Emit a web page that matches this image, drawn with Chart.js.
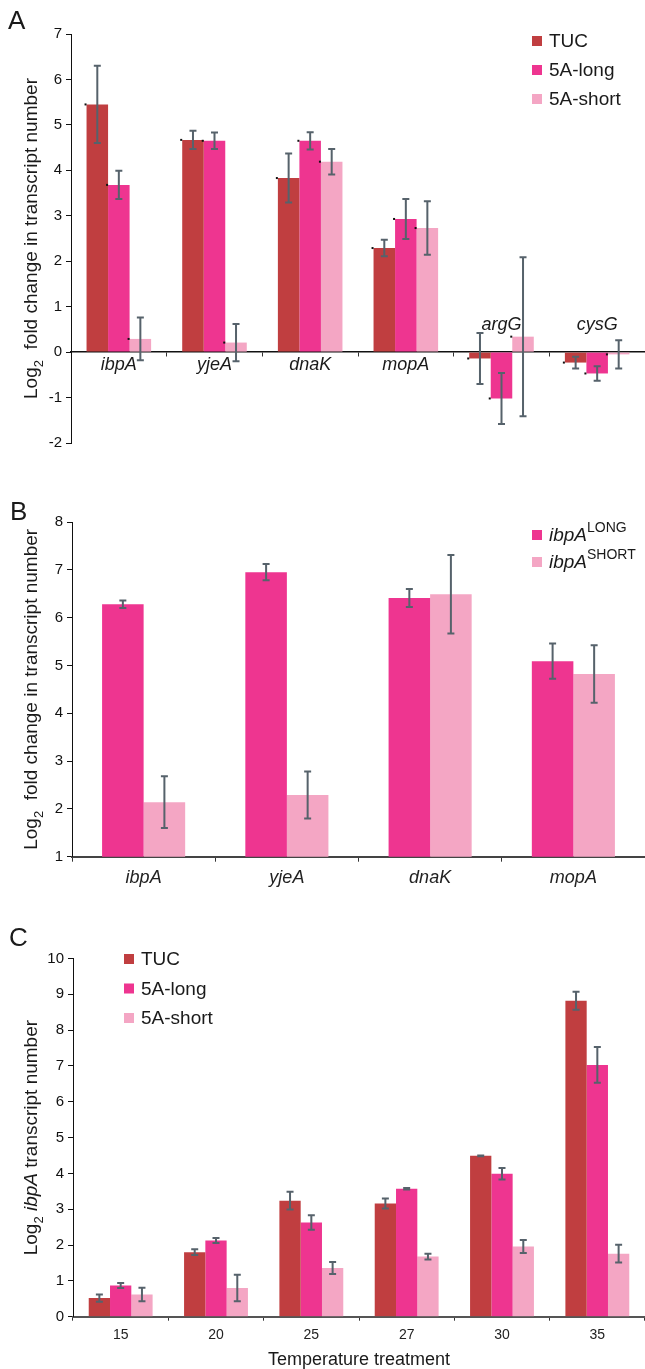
<!DOCTYPE html>
<html>
<head>
<meta charset="utf-8">
<script src="https://cdn.jsdelivr.net/npm/chart.js@4.4.1/dist/chart.umd.min.js"></script>
<style>
  body { margin: 0; background: #fff; }
  .panel { position: absolute; left: 0; }
  canvas { display: block; }
</style>
</head>
<body>
<div class="panel" style="top:0"><canvas id="chartA" width="645" height="470"></canvas></div>
<div class="panel" style="top:470px"><canvas id="chartB" width="645" height="420"></canvas></div>
<div class="panel" style="top:890px"><canvas id="chartC" width="645" height="479"></canvas></div>
<script>
// Panel A: fold change per gene
const genesA = ['ibpA', 'yjeA', 'dnaK', 'mopA', 'argG', 'cysG'];
const tucA = [5.45, 4.67, 3.83, 2.29, -0.14, -0.23];
const tucErrA = [0.85, 0.20, 0.54, 0.18, 0.56, 0.13];
const longA = [3.68, 4.65, 4.65, 2.93, -1.02, -0.47];
const longErrA = [0.31, 0.18, 0.19, 0.44, 0.56, 0.16];
const shortA = [0.29, 0.21, 4.19, 2.73, 0.34, -0.05];
const shortErrA = [0.47, 0.41, 0.28, 0.59, 1.75, 0.31];
const ticksA = [-2, -1, 0, 1, 2, 3, 4, 5, 6, 7];

// Panel B: ibpA long / short constructs
const genesB = ['ibpA', 'yjeA', 'dnaK', 'mopA'];
const longB = [6.28, 6.95, 6.41, 5.09];
const longErrB = [0.08, 0.17, 0.19, 0.37];
const shortB = [2.14, 2.29, 6.49, 4.82];
const shortErrB = [0.54, 0.49, 0.82, 0.60];
const ticksB = [1, 2, 3, 4, 5, 6, 7, 8];

// Panel C: ibpA transcripts by temperature
const temps = ['15', '20', '25', '27', '30', '35'];
const tucC = [0.52, 1.80, 3.24, 3.16, 4.49, 8.82];
const tucErrC = [0.10, 0.08, 0.25, 0.14, 0.01, 0.25];
const longC = [0.87, 2.13, 2.63, 3.57, 3.99, 7.03];
const longErrC = [0.07, 0.07, 0.20, 0.02, 0.16, 0.50];
const shortC = [0.62, 0.80, 1.36, 1.68, 1.96, 1.76];
const shortErrC = [0.19, 0.37, 0.17, 0.08, 0.18, 0.25];
const ticksC = [0, 1, 2, 3, 4, 5, 6, 7, 8, 9, 10];

const seriesNames = ['TUC', '5A-long', '5A-short'];
const seriesB = [['ibpA', 'LONG'], ['ibpA', 'SHORT']];

const FONT = '"Liberation Sans", Arial, Helvetica, sans-serif';
const RED = '#c03e40';
const PINK = '#ee3590';
const LIGHT = '#f4a6c4';
const ERR = '#56626b';
const INK = '#1a1a1a';

Chart.defaults.font.family = FONT;

function richWidth(ctx, parts) {
  let w = 0;
  parts.forEach(p => { ctx.font = p.font; w += ctx.measureText(p.text).width; });
  return w;
}

function drawRich(ctx, parts, x, y) {
  parts.forEach(p => {
    ctx.font = p.font;
    ctx.fillText(p.text, x, y + (p.dy || 0));
    x += ctx.measureText(p.text).width;
  });
}

// error bars (and the little excel marker dots on panel A)
function makeErrorBars(dots) {
  return {
    id: 'errorBars',
    afterDatasetsDraw(chart) {
      const ctx = chart.ctx, ys = chart.scales.y;
      ctx.save();
      chart.data.datasets.forEach((ds, di) => {
        chart.getDatasetMeta(di).data.forEach((bar, i) => {
          const v = ds.data[i], e = ds.errors[i];
          if (dots) {
            ctx.fillStyle = '#111';
            ctx.fillRect(bar.x - bar.width / 2 - 2, ys.getPixelForValue(v) - 1, 2, 2);
          }
          const top = ys.getPixelForValue(v + e), bot = ys.getPixelForValue(v - e);
          ctx.strokeStyle = ERR;
          ctx.lineWidth = 2;
          ctx.beginPath();
          ctx.moveTo(bar.x, top); ctx.lineTo(bar.x, bot);
          ctx.moveTo(bar.x - 3.5, top); ctx.lineTo(bar.x + 3.5, top);
          ctx.moveTo(bar.x - 3.5, bot); ctx.lineTo(bar.x + 3.5, bot);
          ctx.stroke();
        });
      });
      ctx.restore();
    }
  };
}

// panel letter, axis titles, legend, gene labels
function makeDecor(cfg) {
  return {
    id: 'decor',
    afterDraw(chart) {
      const ctx = chart.ctx, area = chart.chartArea;
      ctx.save();
      ctx.fillStyle = INK;
      ctx.textAlign = 'left';
      ctx.textBaseline = 'alphabetic';
      ctx.font = '26px ' + FONT;
      ctx.fillText(cfg.letter, cfg.letterPos[0], cfg.letterPos[1]);

      ctx.save();
      ctx.translate(cfg.yTitleX, (area.top + area.bottom) / 2);
      ctx.rotate(-Math.PI / 2);
      drawRich(ctx, cfg.yTitle, -richWidth(ctx, cfg.yTitle) / 2, 0);
      ctx.restore();

      if (cfg.xTitle) {
        ctx.font = '18px ' + FONT;
        ctx.textAlign = 'center';
        ctx.textBaseline = 'middle';
        ctx.fillText(cfg.xTitle, (area.left + area.right) / 2, cfg.xTitleY);
      }

      ctx.textAlign = 'left';
      ctx.textBaseline = 'middle';
      chart.data.datasets.forEach((ds, i) => {
        const y = cfg.legend.y + i * cfg.legend.gap;
        ctx.fillStyle = ds.backgroundColor;
        ctx.fillRect(cfg.legend.x, y - 5, 10, 10);
        ctx.fillStyle = INK;
        drawRich(ctx, cfg.legend.items[i], cfg.legend.x + 17, y + 1);
      });

      if (cfg.catLabels) {
        const xs = chart.scales.x, zero = chart.scales.y.getPixelForValue(0);
        ctx.font = 'italic 18px ' + FONT;
        ctx.textAlign = 'center';
        ctx.textBaseline = 'alphabetic';
        cfg.catLabels.forEach((lab, i) => {
          ctx.fillText(lab, xs.getPixelForValue(i), cfg.catAbove[i] ? zero - 22 : zero + 18);
        });
      }
      ctx.restore();
    }
  };
}

function dataset(label, color, values, errors, catPct) {
  return {
    label, data: values, errors,
    backgroundColor: color, borderWidth: 0,
    barPercentage: 1.0, categoryPercentage: catPct
  };
}

function yScale(min, max, width, tickList) {
  return {
    min, max,
    afterFit: s => { s.width = width; },
    afterBuildTicks: s => { s.ticks = tickList.map(v => ({ value: v })); },
    grid: { drawOnChartArea: false, drawTicks: true, tickLength: 5, color: '#111', lineWidth: 1 },
    border: { display: true, color: '#111', width: 1 },
    ticks: { padding: 4, color: '#111', font: { size: 15 } }
  };
}

const plain = t => [{ text: t, font: '19px ' + FONT }];
const base = { responsive: false, animation: false, events: [], plugins: { legend: { display: false }, tooltip: { enabled: false } } };

// ---- Panel A
new Chart(document.getElementById('chartA'), {
  type: 'bar',
  data: {
    labels: genesA,
    datasets: [
      dataset(seriesNames[0], RED, tucA, tucErrA, 0.675),
      dataset(seriesNames[1], PINK, longA, longErrA, 0.675),
      dataset(seriesNames[2], LIGHT, shortA, shortErrA, 0.675)
    ]
  },
  options: {
    ...base,
    layout: { padding: { top: 34, right: 0, bottom: 27, left: 0 } },
    scales: {
      x: {
        position: { y: 0 },
        ticks: { display: false },
        grid: { offset: true, drawOnChartArea: false, tickLength: 4, color: '#333' },
        border: { display: true, color: '#111', width: 1.5 }
      },
      y: yScale(-2, 7, 71, ticksA)
    }
  },
  plugins: [makeErrorBars(true), makeDecor({
    letter: 'A', letterPos: [8, 29],
    yTitleX: 37,
    yTitle: [{ text: 'Log', font: '19px ' + FONT }, { text: '2', font: '13px ' + FONT, dy: 6 },
             { text: '  fold change in transcript number', font: '19px ' + FONT }],
    legend: { x: 532, y: 41, gap: 29, items: seriesNames.map(plain) },
    catLabels: genesA,
    catAbove: tucA.map(v => v < 0)
  })]
});

// ---- Panel B
new Chart(document.getElementById('chartB'), {
  type: 'bar',
  data: {
    labels: genesB,
    datasets: [
      dataset(seriesB[0].join(' '), PINK, longB, longErrB, 0.58),
      dataset(seriesB[1].join(' '), LIGHT, shortB, shortErrB, 0.58)
    ]
  },
  options: {
    ...base,
    layout: { padding: { top: 52, right: 0, bottom: 0, left: 0 } },
    scales: {
      x: {
        afterFit: s => { s.height = 33.3; },
        ticks: { padding: 5, color: '#222', font: { size: 18, style: 'italic' }, maxRotation: 0, autoSkip: false },
        grid: { offset: true, drawOnChartArea: false, tickLength: 5, color: '#333' },
        border: { display: true, color: '#444', width: 2 }
      },
      y: yScale(1, 8, 72, ticksB)
    }
  },
  plugins: [makeErrorBars(false), makeDecor({
    letter: 'B', letterPos: [10, 50],
    yTitleX: 37,
    yTitle: [{ text: 'Log', font: '19px ' + FONT }, { text: '2', font: '13px ' + FONT, dy: 6 },
             { text: '  fold change in transcript number', font: '19px ' + FONT }],
    legend: {
      x: 532, y: 65, gap: 27,
      items: seriesB.map(s => [{ text: s[0], font: 'italic 19px ' + FONT }, { text: s[1], font: '14px ' + FONT, dy: -8 }])
    }
  })]
});

// ---- Panel C
new Chart(document.getElementById('chartC'), {
  type: 'bar',
  data: {
    labels: temps,
    datasets: [
      dataset(seriesNames[0], RED, tucC, tucErrC, 0.67),
      dataset(seriesNames[1], PINK, longC, longErrC, 0.67),
      dataset(seriesNames[2], LIGHT, shortC, shortErrC, 0.67)
    ]
  },
  options: {
    ...base,
    layout: { padding: { top: 68.5, right: 0, bottom: 0, left: 0 } },
    scales: {
      x: {
        afterFit: s => { s.height = 52.3; },
        ticks: { padding: 6, color: '#222', font: { size: 14 }, maxRotation: 0, autoSkip: false },
        grid: { offset: true, drawOnChartArea: false, tickLength: 4, color: '#333' },
        border: { display: true, color: '#555', width: 2 }
      },
      y: yScale(0, 10, 73, ticksC)
    }
  },
  plugins: [makeErrorBars(false), makeDecor({
    letter: 'C', letterPos: [9, 56],
    yTitleX: 37,
    yTitle: [{ text: 'Log', font: '19px ' + FONT }, { text: '2', font: '13px ' + FONT, dy: 6 },
             { text: ' ', font: '19px ' + FONT }, { text: 'ibpA', font: 'italic 19px ' + FONT },
             { text: ' transcript number', font: '19px ' + FONT }],
    xTitle: 'Temperature treatment', xTitleY: 470,
    legend: { x: 124, y: 69, gap: 29.5, items: seriesNames.map(plain) }
  })]
});
</script>
</body>
</html>
